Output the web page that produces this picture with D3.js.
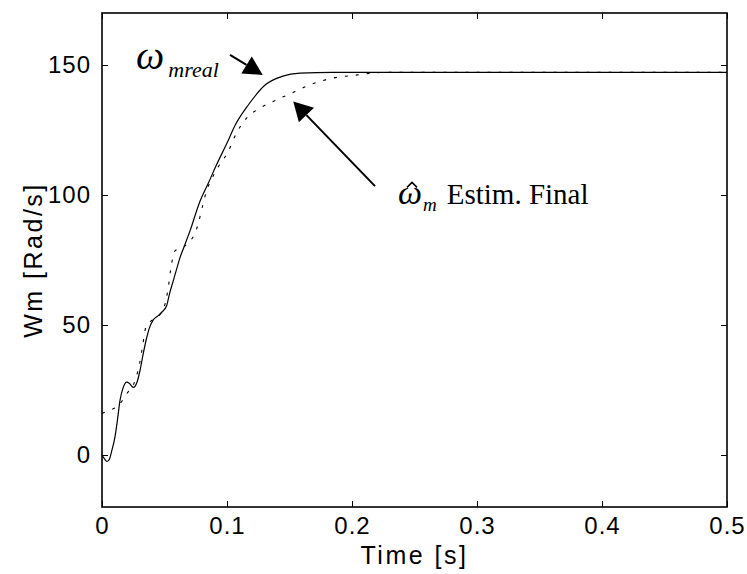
<!DOCTYPE html>
<html>
<head>
<meta charset="utf-8">
<script src="https://cdn.jsdelivr.net/npm/d3@7"></script>
<style>
html,body{margin:0;padding:0;background:#fff;}
svg{display:block;}
</style>
</head>
<body>
<svg id="chart" width="747" height="574"></svg>
<script>
// ---- data ----
const realTime = [0,0.002,0.004,0.006,0.008,0.0104,0.0125,0.0144,0.017,0.0197,0.022,0.025,0.028,0.0304,0.033,0.0357,0.038,0.041,0.045,0.048,0.0517,0.054,0.057,0.06,0.0624,0.066,0.0704,0.0784,0.085,0.0917,0.1,0.1067,0.1173,0.1307,0.144,0.1584,0.185,0.25,0.5];
const realSpeed = [0,-1.5,-2.5,-1.5,2,7,14,21,26,28,27.5,26,28,32.5,39,45,49,52,53.6,55,57.4,62,67,72,75.9,80.5,86.2,97.6,104.5,111.7,120,127,134.8,142.4,145.6,146.9,147.2,147.2,147.2];
const estTime = [0,0.005,0.013,0.0197,0.0264,0.03,0.0325,0.035,0.039,0.043,0.05,0.053,0.055,0.0584,0.0664,0.075,0.084,0.092,0.101,0.1077,0.1157,0.1264,0.1397,0.1517,0.1664,0.185,0.201,0.2277,0.5];
const estSpeed = [16,17,19,23.5,28.6,35,42,49,51.5,52.5,57.4,64.4,71.5,78.5,80.4,86,102,110,116.8,123.9,129.6,133.4,136.6,139.2,142.4,145,146,147.2,147.2];
const xTicks = [0,0.1,0.2,0.3,0.4,0.5];
const xTickLabels = ["0","0.1","0.2","0.3","0.4","0.5"];
const yTicks = [0,50,100,150];
const xDomain = [0,0.5];
const yDomain = [-20,170];
const xLabel = "Time [s]";
const yLabel = "Wm [Rad/s]";
// annotations in data units
const arrowReal = {from:[0.1024,153.9], to:[0.1286,146.2]};
const arrowEst = {from:[0.2184,103.4], to:[0.153,136.0]};
const labelReal = {at:[0.0272,148.3]};
const labelEst = {at:[0.2368,96.4]};

// ---- layout ----
const L=102, R=727, T=13, B=507;
const svg = d3.select("#chart");
const x = d3.scaleLinear().domain(xDomain).range([L,R]);
const y = d3.scaleLinear().domain(yDomain).range([B,T]);
const tickFont = "Liberation Sans, Arial, sans-serif";

// curves
const line = d3.line().x(d=>x(d[0])).y(d=>y(d[1])).curve(d3.curveMonotoneX);
const realData = realTime.map((t,i)=>[t,realSpeed[i]]);
const estData = estTime.map((t,i)=>[t,estSpeed[i]]);

svg.append("path").datum(estData).attr("d",line)
  .attr("fill","none").attr("stroke","#000").attr("stroke-width",1.1)
  .attr("stroke-dasharray","3,8");
svg.append("path").datum(realData).attr("d",line)
  .attr("fill","none").attr("stroke","#000").attr("stroke-width",1.2);

// axes (ticks inward)
const tl = 6;
const axB = d3.axisBottom(x).tickValues(xTicks).tickSize(-tl).tickPadding(10)
  .tickFormat((d,i)=>xTickLabels[i]);
const axT = d3.axisTop(x).tickValues(xTicks).tickSize(-tl).tickFormat("");
const axLft = d3.axisLeft(y).tickValues(yTicks).tickSize(-tl).tickPadding(11).tickFormat(d3.format("d"));
const axRgt = d3.axisRight(y).tickValues(yTicks).tickSize(-tl).tickFormat("");

function style(g){
  g.select(".domain").remove();
  g.selectAll("line").attr("stroke","#000").attr("stroke-width",1);
  g.selectAll("text").attr("fill","#000").style("font-family",tickFont)
    .style("font-size","24px").style("letter-spacing","1px");
}
svg.append("g").attr("transform",`translate(0,${B})`).call(axB).call(style);
svg.append("g").attr("transform",`translate(0,${T})`).call(axT).call(style);
svg.append("g").attr("transform",`translate(${L},0)`).call(axLft).call(style);
svg.append("g").attr("transform",`translate(${R},0)`).call(axRgt).call(style);

svg.append("rect").attr("x",L).attr("y",T).attr("width",R-L).attr("height",B-T)
  .attr("fill","none").attr("stroke","#000").attr("stroke-width",1.6);

// axis labels
svg.append("text").attr("x",(L+R)/2).attr("y",564).attr("text-anchor","middle")
  .style("font-family",tickFont).style("font-size","25px").style("letter-spacing","2.5px")
  .text(xLabel);
svg.append("text").attr("transform",`translate(42,${(T+B)/2}) rotate(-90)`)
  .attr("text-anchor","middle")
  .style("font-family",tickFont).style("font-size","25px").style("letter-spacing","2.5px")
  .text(yLabel);

// arrows
function arrow(a, headLen, headW){
  const x1=x(a.from[0]), y1=y(a.from[1]), x2=x(a.to[0]), y2=y(a.to[1]);
  const ang=Math.atan2(y2-y1,x2-x1);
  const bx=x2-headLen*Math.cos(ang), by=y2-headLen*Math.sin(ang);
  svg.append("line").attr("x1",x1).attr("y1",y1).attr("x2",bx).attr("y2",by)
    .attr("stroke","#000").attr("stroke-width",2);
  const px=-Math.sin(ang)*headW/2, py=Math.cos(ang)*headW/2;
  svg.append("polygon").attr("points",`${x2},${y2} ${bx+px},${by+py} ${bx-px},${by-py}`)
    .attr("fill","#000");
}
arrow(arrowReal,19,20);
arrow(arrowEst,19,21);

// annotation labels
const serif = "Liberation Serif, Times New Roman, serif";
const rx = x(labelReal.at[0]), ry = y(labelReal.at[1]);
const t1 = svg.append("text").attr("x",rx).attr("y",ry)
  .style("font-family",serif).style("font-style","italic");
t1.append("tspan").style("font-size","40px").text("ω");
t1.append("tspan").attr("dx",4).attr("dy",8).style("font-size","22px").text("mreal");

const ex = x(labelEst.at[0]), ey = y(labelEst.at[1]);
const t2 = svg.append("text").attr("x",ex).attr("y",ey)
  .style("font-family",serif);
t2.append("tspan").style("font-size","34px").style("font-style","italic").text("ω");
t2.append("tspan").attr("dx",1).attr("dy",7).style("font-size","19px").style("font-style","italic").text("m");
t2.append("tspan").attr("dx",10).attr("dy",-7).style("font-size","29px").text("Estim. Final");
// circumflex (hat) over omega, drawn as a small stroke
svg.append("path")
  .attr("d",`M${ex+9},${ey-17} L${ex+14},${ey-22} L${ex+19},${ey-17}`)
  .attr("fill","none").attr("stroke","#000").attr("stroke-width",1.5)
  .attr("stroke-linejoin","miter");
</script>
</body>
</html>
